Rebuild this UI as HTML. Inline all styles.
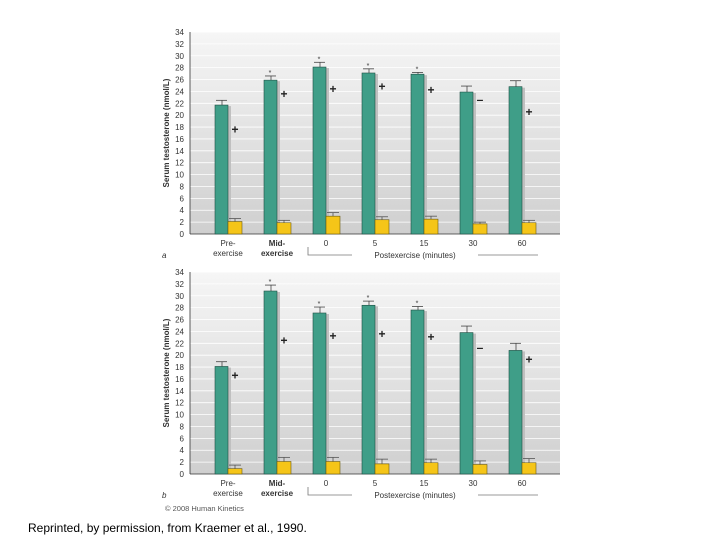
<!DOCTYPE html>
<html><head><meta charset="utf-8"><style>
body{margin:0;background:#fff;width:720px;height:540px;overflow:hidden;font-family:"Liberation Sans",sans-serif}
svg{position:absolute;left:0;top:0}
</style></head><body>
<svg id="c" width="720" height="540">
<defs><linearGradient id="bg" x1="0" y1="0" x2="0" y2="1"><stop offset="0" stop-color="#f6f6f6"/><stop offset="1" stop-color="#cfcfcf"/></linearGradient></defs>
<text x="28" y="532" font-size="12" fill="#000">Reprinted, by permission, from Kraemer et al., 1990.</text>
<text x="165" y="511" font-size="7.5" fill="#555">© 2008 Human Kinetics</text>
</svg>
<script>
const categories=["Pre-|exercise","Mid-|exercise","0","5","15","30","60"];
const yTicks=[0,2,4,6,8,10,12,14,16,18,20,22,24,26,28,30,32,34];
const greenA=[21.7,25.9,28.1,27.1,26.9,23.9,24.8];
const greenErrA=[0.8,0.7,0.8,0.7,0.3,1.0,1.0];
const yellowA=[2.1,1.9,3.0,2.4,2.5,1.7,1.9];
const yellowErrA=[0.5,0.4,0.6,0.5,0.5,0.3,0.4];
const plusA=[17.6,23.6,24.4,24.8,24.2,22.6,20.5];
const starA=[0,1,1,1,1,0,0];
const greenB=[18.1,30.8,27.1,28.4,27.6,23.8,20.8];
const greenErrB=[0.8,1.0,1.0,0.7,0.6,1.1,1.2];
const yellowB=[0.9,2.1,2.1,1.7,1.9,1.6,1.9];
const yellowErrB=[0.6,0.7,0.7,0.8,0.6,0.6,0.7];
const plusB=[16.6,22.5,23.2,23.6,23.1,21.3,19.3];
const starB=[0,1,1,1,1,0,0];
const NS="http://www.w3.org/2000/svg";
const svg=document.getElementById('c');
function mk(t,a,p){const e=document.createElementNS(NS,t);for(const k in a)e.setAttribute(k,a[k]);(p||svg).appendChild(e);return e;}
function panel(y0,letter,green,gErr,yellow,yErr,plus,star,id){
  const g=mk('g',{});
  
  
  const top=y0-202, left=190, right=560;
  const y=v=>y0-v*202/34;
  const x=i=>215+i*49;
  mk('rect',{x:left,y:top,width:right-left,height:202,fill:'url(#bg)'},g);
  yTicks.forEach(t=>{
    if(t>0)mk('line',{x1:left,x2:right,y1:y(t),y2:y(t),stroke:'#fff','stroke-width':0.8},g);
    const tx=mk('text',{x:184,y:y(t)+3,'font-size':8,'text-anchor':'end',fill:'#333'},g);tx.textContent=t;
    
    
  });
  mk('line',{x1:left,x2:left,y1:top,y2:y0,stroke:'#333','stroke-width':0.8},g);
  mk('line',{x1:left,x2:right,y1:y0,y2:y0,stroke:'#333','stroke-width':0.8},g);
  const yt=mk('text',{x:0,y:0,'font-size':8,'font-weight':'bold','text-anchor':'middle',fill:'#333',transform:`translate(169,${y(17)}) rotate(-90)`},g);
  yt.textContent='Serum testosterone (nmol/L)';
  
  
  categories.forEach((c,i)=>{
    const cx=x(i)+13;
    mk('rect',{x:x(i)+2,y:y(green[i])+1,width:14,height:y0-y(green[i])-1,fill:'#c0c0c0'},g);
    mk('line',{x1:x(i)+1,x2:x(i)+12,y1:y(green[i]+gErr[i]),y2:y(green[i]+gErr[i]),stroke:'#444','stroke-width':0.8},g);
    mk('line',{x1:x(i)+7,x2:x(i)+7,y1:y(green[i]+gErr[i]),y2:y(green[i]),stroke:'#444','stroke-width':0.8},g);
    const gb=mk('rect',{x:x(i),y:y(green[i]),width:13,height:y0-y(green[i]),fill:'#3f9e88',stroke:'#1f4f44','stroke-width':0.6},g);
    
    
    const yx=x(i)+13;
    mk('line',{x1:yx+1,x2:yx+13,y1:y(yellow[i]+yErr[i]),y2:y(yellow[i]+yErr[i]),stroke:'#555','stroke-width':0.8},g);
    mk('line',{x1:yx+7,x2:yx+7,y1:y(yellow[i]+yErr[i]),y2:y(yellow[i]),stroke:'#555','stroke-width':0.8},g);
    const yb=mk('rect',{x:yx,y:y(yellow[i]),width:14,height:y0-y(yellow[i]),fill:'#f5c518',stroke:'#6b5a10','stroke-width':0.6},g);
    
    
    const pm=mk('text',{x:x(i)+20,y:y(plus[i])+4,'font-size':12,'font-weight':'bold','text-anchor':'middle',fill:'#222'},g);
    pm.textContent=i==5?'–':'+';
    
    
    if(star[i]){const s=mk('text',{x:x(i)+6,y:y(green[i]+gErr[i])-1,'font-size':7,'text-anchor':'middle',fill:'#333'},g);s.textContent='*';
      
      }
    const parts=c.split('|');
    parts.forEach((p,k)=>{const t=mk('text',{x:cx,y:y0+12+k*10,'font-size':8,'text-anchor':'middle',fill:'#333','font-weight':(i==1?'bold':'normal')},g);t.textContent=p;
      
      });
  });
  mk('polyline',{points:`308,${y0+13} 308,${y0+21} 352,${y0+21}`,fill:'none',stroke:'#777','stroke-width':0.8},g);
  mk('line',{x1:478,x2:538,y1:y0+21,y2:y0+21,stroke:'#777','stroke-width':0.8},g);
  const pe=mk('text',{x:415,y:y0+24,'font-size':8,'text-anchor':'middle',fill:'#333'},g);pe.textContent='Postexercise (minutes)';
  
  
  const lt=mk('text',{x:162,y:y0+24,'font-size':8,'font-style':'italic',fill:'#333'},g);lt.textContent=letter;
  
  
}
panel(234,'a',greenA,greenErrA,yellowA,yellowErrA,plusA,starA,'a');
panel(474,'b',greenB,greenErrB,yellowB,yellowErrB,plusB,starB,'b');
</script>
</body></html>
